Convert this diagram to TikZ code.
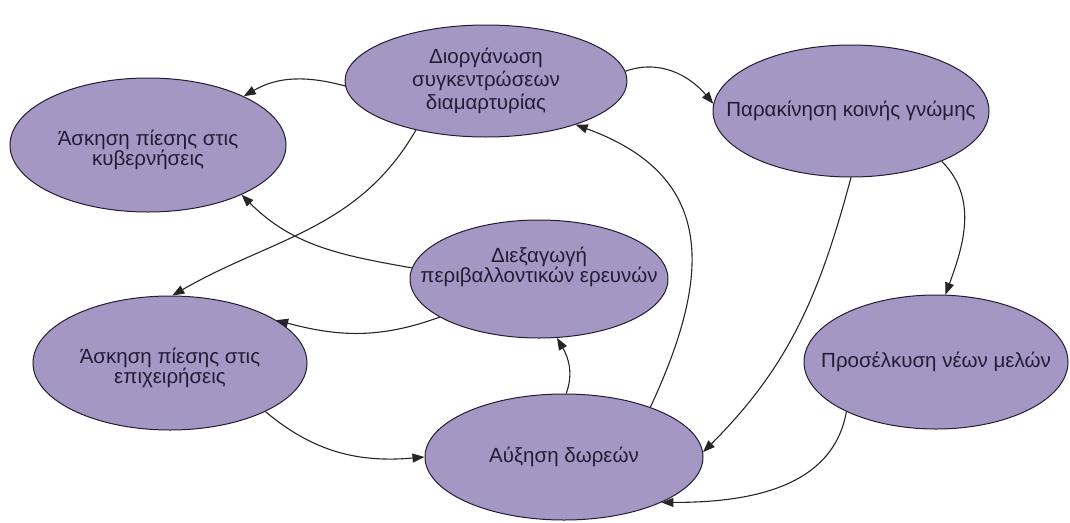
\documentclass[tikz,border=0pt]{standalone}
\usepackage{fontspec}
\setmainfont{Liberation Sans}
\usetikzlibrary{shapes.geometric,arrows.meta}
\definecolor{lilac}{RGB}{165,151,196}
\definecolor{ink}{RGB}{36,28,52}
\begin{document}
\begin{tikzpicture}[
x=1pt,y=1pt,
goal/.style={ellipse,draw=ink,line width=1pt,fill=lilac,inner sep=0pt},
every label/.style={align=center,text=ink,font=\fontsize{20.5}{20}\selectfont},
link/.style={draw=black!85,line width=1.1pt,-{Triangle[length=12pt,width=9pt]}},
]
\useasboundingbox (0,0) rectangle (1070,-522);
\node[goal,minimum width=282pt,minimum height=112pt,
  label={[font=\fontsize{20.5}{23}\selectfont]center:Διοργάνωση\\συγκεντρώσεων\\διαμαρτυρίας}] (rally) at (486,-81) {};
\node[goal,minimum width=276pt,minimum height=134pt,
  label={[yshift=-5pt]center:Άσκηση πίεσης στις\\κυβερνήσεις}] (govt) at (148,-145) {};
\node[goal,minimum width=276pt,minimum height=132pt,
  label={center:Παρακίνηση κοινής γνώμης}] (opinion) at (851,-111) {};
\node[goal,minimum width=258pt,minimum height=118pt,
  label={[yshift=12pt,font=\fontsize{20.5}{19}\selectfont]center:Διεξαγωγή\\περιβαλλοντικών ερευνών}] (research) at (539,-279) {};
\node[goal,minimum width=274pt,minimum height=134pt,
  label={[yshift=-5pt]center:Άσκηση πίεσης στις\\επιχειρήσεις}] (firms) at (170,-363) {};
\node[goal,minimum width=264pt,minimum height=134pt,
  label={center:Προσέλκυση νέων μελών}] (members) at (936,-362) {};
\node[goal,minimum width=278pt,minimum height=126pt,
  label={center:Αύξηση δωρεών}] (funds) at (564,-457) {};
% connectors
\draw[link] (rally.182) to[out=165,in=30] (govt.27);
\draw[link] (rally.4) to[out=20,in=130] (opinion.177);
\draw[link] (rally.215) to[out=240,in=30] (firms.88);
\draw[link] (research.175) to[out=170,in=-45] (govt.332);
\draw[link] (research.201) to[out=200,in=-15] (firms.22);
\draw[link] (funds.88) to[out=70,in=-60] (research.287);
\draw[link] (funds.30) to[out=65,in=-20,looseness=1.3] (rally.334);
\draw[link] (opinion.270) to[out=-105,in=45] (funds.2);
\draw[link] (opinion.-29) to[out=-45,in=70] (members.82);
\draw[link] (members.209) to[out=260,in=0] (funds.-25);
\draw[link] (firms.-27) to[out=-40,in=185] (funds.180);
\end{tikzpicture}
\end{document}
